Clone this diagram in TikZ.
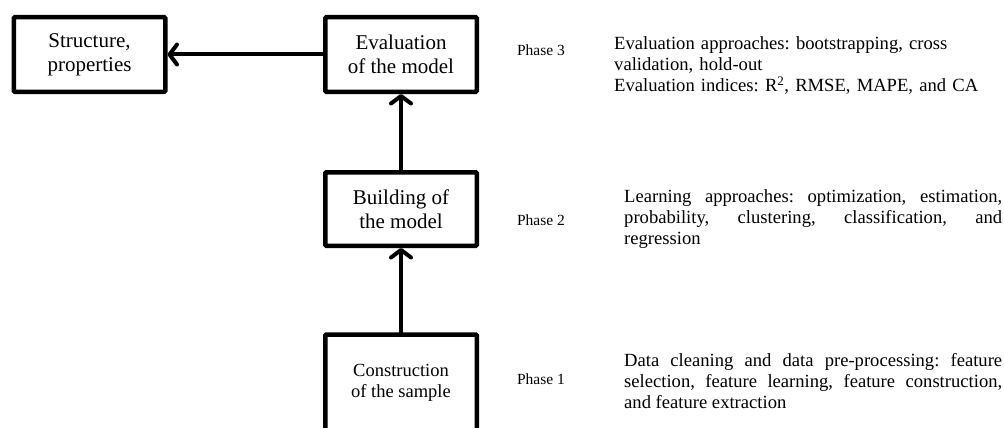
\documentclass[tikz,border=0pt]{standalone}
\usepackage{fontspec}
\setmainfont{Liberation Serif}
\frenchspacing
\usetikzlibrary{arrows.meta}
\begin{document}
\begin{tikzpicture}[x=1pt,y=-1pt,
  stagebox/.style={draw=black,line width=4.5pt,rounded corners=1pt,inner sep=0pt,align=center,
    minimum width=151.5pt,font=\fontsize{21}{24}\selectfont},
  flow/.style={line width=4pt,line cap=round,line join=round,
    -{Straight Barb[length=7.5pt,width=20pt,line cap=round,line join=round]}},
  phase/.style={font=\fontsize{15.5}{18}\selectfont,inner sep=0pt,anchor=base},
  note/.style={font=\fontsize{18.6}{21}\selectfont,inner sep=0pt,anchor=base west}]
\useasboundingbox (0,0) rectangle (1004,428);
\begin{scope}
\clip (0,0) rectangle (1004,428);
\node[stagebox,minimum height=74.5pt] (struct) at (89.5,54.5) {Structure,\\properties};
\node[stagebox,minimum height=74.5pt] (eval) at (401,54.5) {Evaluation\\of the model};
\node[stagebox,minimum height=73.5pt] (build) at (401,209) {Building of\\the model};
\node[stagebox,minimum height=97pt,font=\fontsize{18.5}{21}\selectfont] (constr) at (401,383) {Construction\\of the sample};
\end{scope}
\draw[flow] (eval.west) -- (struct.east);
\draw[flow] (build.north) -- (eval.south);
\draw[flow] (constr.north) -- (build.south);

\node[phase] (p3) at (541,56) {Phase 3};
\node[phase] (p2) at (541,225) {Phase 2};
\node[phase] (p1) at (541,384) {Phase 1};

\node[note,text width=380pt,align=left] (t3) at (614,49.5)
  {Evaluation approaches: bootstrapping, cross\\validation, hold-out\\Evaluation indices: R\textsuperscript{2}, RMSE, MAPE, and CA};
\node[note,text width=378pt,align=justify] (t2) at (624,202.5)
  {Learning approaches: optimization, estimation,\linebreak probability, clustering, classification, and\linebreak regression};
\node[note,text width=378pt,align=justify] (t1) at (624,366.5)
  {Data cleaning and data pre-processing: feature\linebreak selection, feature learning, feature construction,\linebreak and feature extraction};
\end{tikzpicture}
\end{document}
